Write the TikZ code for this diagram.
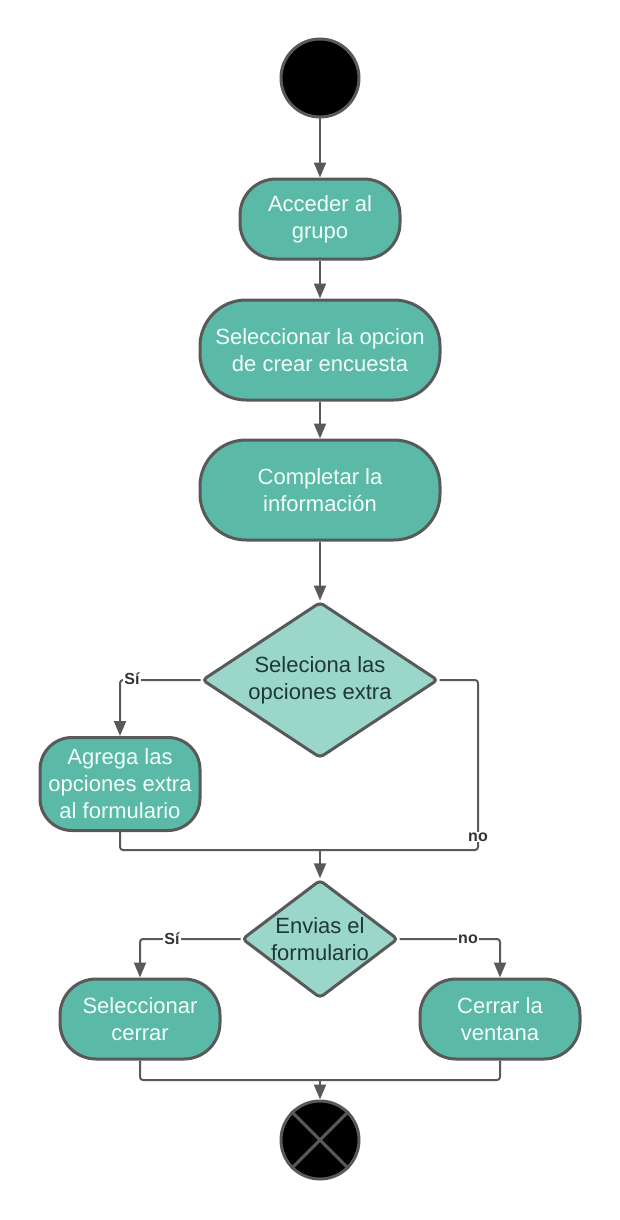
\documentclass[tikz,border=0pt]{standalone}
\usepackage{fontspec}
\setmainfont{Liberation Sans}
\usetikzlibrary{arrows.meta,shapes.geometric}
\definecolor{verde}{HTML}{5BB9A7}
\definecolor{verdeclaro}{HTML}{9AD6CA}
\definecolor{borde}{HTML}{595959}
\definecolor{textoclaro}{HTML}{F2FFFA}
\definecolor{textooscuro}{HTML}{1F3833}

\begin{document}
\begin{tikzpicture}[x=1pt, y=-1pt,
    accion/.style={rectangle, rounded corners=36pt, draw=borde, fill=verde, line width=3pt, text=textoclaro, align=center, font=\fontsize{22}{27}\selectfont, minimum width=160pt, minimum height=80pt, inner sep=0pt},
    decision/.style={diamond, aspect=1.5, rounded corners=4pt, draw=borde, fill=verdeclaro, line width=3pt, text=textooscuro, align=center, font=\fontsize{22}{27}\selectfont, inner sep=0pt},
    inicio/.style={circle, draw=borde, fill=black, line width=3pt, minimum size=78pt, inner sep=0pt},
    linea/.style={draw=borde, line width=2pt, rounded corners=3pt},
    edge/.style={linea, -{Triangle[length=15pt,width=12pt]}},
    etiq/.style={fill=white, inner sep=1pt, text=black!80, font=\fontsize{16}{16}\selectfont\bfseries}]

    \useasboundingbox (0,0) rectangle (620,1220);

    % Nodes
    \node[inicio] (ini) at (320,78) {};
    \node[accion] (acceder) at (320,219) {Acceder al\\grupo};
    \node[accion, rounded corners=46pt, minimum width=240pt, minimum height=100pt] (crear) at (320,350) {Seleccionar la opcion\\de crear encuesta};
    \node[accion, rounded corners=46pt, minimum width=240pt, minimum height=100pt] (completar) at (320,490) {Completar la\\información};
    \node[decision, minimum width=236pt, minimum height=156pt] (extra) at (320,680) {Seleciona las\\opciones extra};
    \node[accion, rounded corners=32pt, minimum height=93pt] (agrega) at (120,784) {Agrega las\\opciones extra\\al formulario};
    \node[decision, aspect=1.3, minimum width=156pt, minimum height=118pt] (envias) at (320,939) {Envias el\\formulario};
    \node[accion] (cerrar) at (140,1019) {Seleccionar\\cerrar};
    \node[accion] (ventana) at (500,1019) {Cerrar la\\ventana};
    \node[inicio] (fin) at (320,1140) {};
    \draw[borde, line width=3pt] (fin.45) -- (fin.225) (fin.135) -- (fin.315);

    \coordinate (nofin) at (478,850);
    \coordinate (union) at (320,850);
    \coordinate (final) at (320,1080);

    % Edges
    \draw[edge] (ini) -- (acceder);
    \draw[edge] (acceder) -- (crear);
    \draw[edge] (crear) -- (completar);
    \draw[edge] (completar) -- (extra);
    \draw[edge] (extra.west) -| (agrega.north);
    \draw[linea] (extra.east) -| (nofin) -- (union);
    \draw[linea] (agrega.south) |- (union);
    \draw[edge] (union) -- (envias);
    \draw[edge] (envias.west) -| (cerrar.north);
    \draw[edge] (envias.east) -| (ventana.north);
    \draw[linea] (cerrar.south) |- (final);
    \draw[linea] (ventana.south) |- (final);
    \draw[edge] (final) -- (fin);

    % Labels
    \node[etiq] (si1) at (132,679) {Sí};
    \node[etiq] (no1) at (478,837) {no};
    \node[etiq] (si2) at (172,939) {Sí};
    \node[etiq] (no2) at (468,939) {no};

\end{tikzpicture}
\end{document}
